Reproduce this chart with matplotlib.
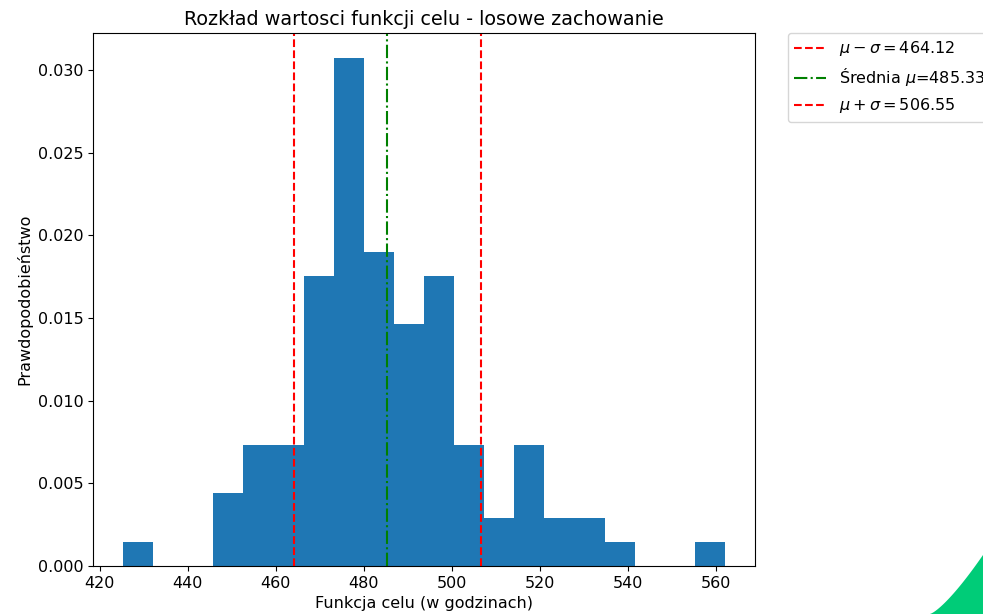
import numpy as np
import matplotlib.pyplot as plt
from matplotlib.patches import Polygon

plt.rcParams['font.size'] = 11.5

# histogram: 20 bins, 100 samples
bin_lo = 425.3
bin_hi = 562.1
n_bins = 20
counts = [1, 0, 0, 3, 5, 5, 12, 21, 13, 10, 12, 5, 2, 5, 2, 2, 1, 0, 0, 1]

lower = 464.12
mean = 485.33
upper = 506.55

edges = np.linspace(bin_lo, bin_hi, n_bins + 1)
centers = (edges[:-1] + edges[1:]) / 2

fig = plt.figure(figsize=(9.83, 6.14), dpi=100)
ax = fig.add_axes([93 / 983, 1 - 566 / 614, (755 - 93) / 983, (566 - 33) / 614])

ax.hist(centers, bins=edges, weights=counts, density=True, color='#1f77b4')
ax.axvline(lower, color='r', linestyle='--', label=r'$\mu-\sigma=%.2f$' % lower)
ax.axvline(mean, color='g', linestyle='-.', label=r'Średnia $\mu$=%.2f' % mean)
ax.axvline(upper, color='r', linestyle='--', label=r'$\mu+\sigma=%.2f$' % upper)

ax.set_title('Rozkład wartosci funkcji celu - losowe zachowanie')
ax.set_xlabel('Funkcja celu (w godzinach)')
ax.set_ylabel('Prawdopodobieństwo')
ax.legend(bbox_to_anchor=(1.05, 1), loc='upper left', borderaxespad=0.)

# green corner decoration in the screenshot
t = np.linspace(0, 1, 30)
xs = 930 + 53 * t
ys = 614 - 59 * t ** 1.3
pts = [(x / 983, 1 - y / 614) for x, y in zip(xs, ys)] + [(1, 0)]
fig.patches.append(Polygon(pts, closed=True, transform=fig.transFigure,
                           facecolor='#00cc78', edgecolor='none'))

fig.savefig('out.png', dpi=100)
